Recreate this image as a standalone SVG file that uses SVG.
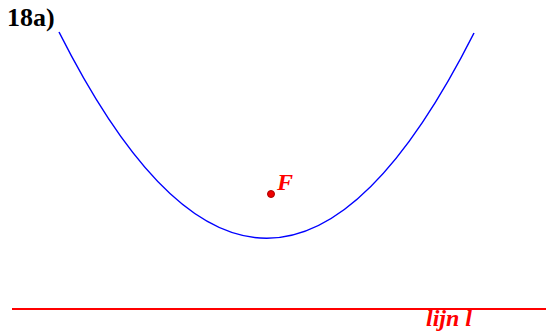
<svg xmlns="http://www.w3.org/2000/svg" width="546" height="336" viewBox="0 0 546 336">
<style>
text{font-family:"Liberation Serif",Tinos,"Times New Roman",Times,serif;font-weight:bold;}
.red{fill:#ff0000;font-style:italic;}
</style>
<rect width="546" height="336" fill="#ffffff"/>
<text x="7" y="26" font-size="26" fill="#000000">18a)</text>
<g id="connectors">
<path id="parabola" d="M59,32 Q266.5,444 474,33" fill="none" stroke="#0000ff" stroke-width="1.5"/>
<line id="lijn-l" x1="12" y1="309" x2="546" y2="309" stroke="#ff0000" stroke-width="2"/>
</g>
<g id="focus">
<circle cx="271" cy="194" r="3.5" fill="#ee0000" stroke="#aa0000" stroke-width="1"/>
<text x="277" y="190" class="red" font-size="24">F</text>
</g>
<g id="line-label">
<text x="426" y="326" class="red" font-size="24">lijn l</text>
</g>
</svg>
